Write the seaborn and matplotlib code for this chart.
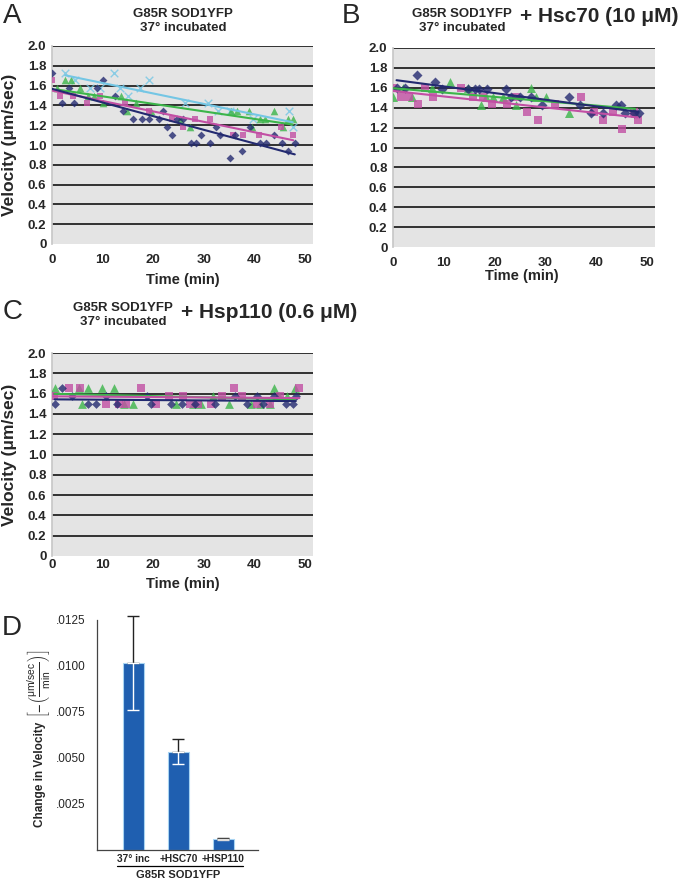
import numpy as np
import pandas as pd
import matplotlib
matplotlib.use("Agg")
import matplotlib.pyplot as plt
import matplotlib.transforms as mtrans
import seaborn as sns

sns.set_theme(style="white")
plt.rcParams['font.family'] = ['Liberation Sans', 'DejaVu Sans']
plt.rcParams['mathtext.fontset'] = 'custom'
plt.rcParams['mathtext.rm'] = 'Liberation Sans'
plt.rcParams['mathtext.it'] = 'Liberation Sans:italic'

# -------------------------------
# Data
# -------------------------------
# Panel A: 37 deg incubated
a_navy_t = [0, 2.0, 3.3, 4.4, 8.9, 10.1, 12.5, 14.1, 16.1, 17.8, 19.2, 21.1, 22.0, 22.7, 23.8,
            24.7, 25.9, 27.5, 28.5, 29.5, 31.3, 32.4, 33.2, 35.2, 36.2, 37.5, 39.2, 41.1, 42.4,
            43.8, 45.4, 46.7, 48.0]
a_navy_v = [1.73, 1.42, 1.58, 1.42, 1.58, 1.66, 1.49, 1.34, 1.26, 1.26, 1.26, 1.26, 1.34, 1.18, 1.10,
            1.26, 1.26, 1.02, 1.02, 1.10, 1.02, 1.18, 1.10, 0.87, 1.10, 0.94, 1.18, 1.02, 1.02,
            1.10, 1.02, 0.94, 1.02]
a_mag_t = [0, 1.6, 4.1, 7.0, 9.5, 14.5, 19.1, 23.7, 25.9, 28.2, 31.3, 35.7, 37.7, 41.0, 45.3, 47.7]
a_mag_v = [1.66, 1.50, 1.50, 1.42, 1.50, 1.42, 1.34, 1.26, 1.18, 1.26, 1.26, 1.10, 1.10, 1.10, 1.18, 1.10]
a_grn_t = [1.0, 2.6, 3.8, 5.6, 7.2, 8.4, 10.1, 13.6, 14.8, 16.6, 19.5, 25.3, 27.3, 35.4, 36.5,
           38.9, 39.5, 41.1, 42.1, 43.8, 45.7, 46.7, 47.6]
a_grn_v = [1.58, 1.66, 1.66, 1.58, 1.50, 1.50, 1.42, 1.50, 1.34, 1.42, 1.34, 1.26, 1.18, 1.34, 1.34,
           1.34, 1.18, 1.26, 1.26, 1.34, 1.18, 1.26, 1.26]
a_cyan_t = [2.6, 4.6, 7.6, 9.5, 12.2, 13.4, 15.1, 17.3, 19.2, 26.3, 30.9, 32.9, 35.1, 39.8, 46.9, 47.6]
a_cyan_v = [1.73, 1.66, 1.58, 1.58, 1.73, 1.58, 1.50, 1.58, 1.66, 1.42, 1.42, 1.34, 1.34, 1.26, 1.34, 1.18]

# Panel B: + Hsc70
b_navy_t = [0.7, 2.4, 4.7, 8.2, 9.7, 14.8, 16.1, 17.0, 18.6, 22.2, 23.2, 25.0, 27.2, 29.3, 34.7,
            36.8, 38.9, 41.4, 43.9, 44.9, 45.7, 47.4, 48.4]
b_navy_v = [1.60, 1.60, 1.73, 1.66, 1.59, 1.59, 1.59, 1.59, 1.59, 1.59, 1.51, 1.51, 1.51, 1.43, 1.51,
            1.43, 1.35, 1.35, 1.43, 1.43, 1.35, 1.35, 1.35]
b_mag_t = [0, 1.6, 3.2, 4.9, 6.3, 7.9, 13.3, 15.7, 17.8, 19.4, 22.4, 24.3, 26.3, 28.5, 31.9, 37.0,
           39.5, 41.4, 43.4, 45.1, 47.4, 48.2]
b_mag_v = [1.60, 1.51, 1.51, 1.44, 1.60, 1.51, 1.60, 1.51, 1.51, 1.44, 1.44, 1.51, 1.36, 1.28, 1.44, 1.51,
           1.36, 1.28, 1.36, 1.19, 1.36, 1.28]
b_grn_t = [0, 2.0, 3.8, 7.6, 11.2, 14.8, 17.4, 18.4, 19.7, 21.7, 24.3, 27.2, 28.2, 30.1, 34.7, 47.7]
b_grn_v = [1.51, 1.60, 1.51, 1.60, 1.66, 1.60, 1.43, 1.51, 1.51, 1.51, 1.43, 1.60, 1.51, 1.51, 1.35, 1.35]

# Panel C: + Hsp110
c_navy_t = [0.5, 2.0, 4.0, 7.2, 8.7, 10.7, 12.8, 18.8, 19.5, 23.5, 25.7, 28.3, 32.2, 36.2, 38.5,
            40.5, 41.8, 43.8, 46.2, 47.6, 48.2]
c_navy_v = [1.50, 1.66, 1.58, 1.50, 1.50, 1.58, 1.50, 1.58, 1.50, 1.50, 1.50, 1.50, 1.50, 1.58, 1.50,
            1.58, 1.50, 1.58, 1.50, 1.50, 1.58]
c_mag_t = [0.3, 3.3, 5.5, 10.7, 13.2, 14.7, 17.6, 20.6, 23.2, 25.9, 27.3, 28.8, 31.4, 33.6, 35.9,
           37.6, 40.6, 43.0, 45.1, 48.9]
c_mag_v = [1.58, 1.66, 1.66, 1.50, 1.50, 1.50, 1.66, 1.50, 1.58, 1.58, 1.50, 1.50, 1.50, 1.58, 1.66,
           1.58, 1.50, 1.50, 1.58, 1.66]
c_grn_t = [0.5, 5.3, 5.9, 7.2, 9.9, 12.3, 14.3, 16.0, 24.5, 27.8, 29.5, 31.9, 34.9, 39.3, 41.1,
           43.1, 43.8, 44.9, 46.4, 48.0]
c_grn_v = [1.66, 1.66, 1.50, 1.66, 1.66, 1.66, 1.50, 1.50, 1.50, 1.50, 1.50, 1.58, 1.50, 1.50, 1.50,
           1.50, 1.66, 1.58, 1.58, 1.66]

# Panel D: slopes
d_cats = ["37\u00b0 inc", "+HSC70", "+HSP110"]
d_vals = [0.01015, 0.00534, 0.00058]
d_err = [0.00256, 0.00069, 0.00005]

NAVY = "#232a70"
MAGENTA = "#c24fa4"
GREEN = "#3cb54a"
CYAN = "#74c6e4"
BG = "#e4e4e4"

fig = plt.figure(figsize=(6.8, 8.81), dpi=100)
W, H = 680, 881


def px_axes(x0, y0, x1, y1):
    return fig.add_axes([x0 / W, 1 - y1 / H, (x1 - x0) / W, (y1 - y0) / H])


def style_velocity(ax, xpad=7):
    ax.set_facecolor(BG)
    ax.set_xlim(0, 51.6)
    ax.set_ylim(0, 2.0)
    ax.set_yticks(np.arange(0, 2.01, 0.2))
    ax.set_yticklabels(["0"] + [f"{v:.1f}" for v in np.arange(0.2, 2.01, 0.2)])
    ax.set_xticks([0, 10, 20, 30, 40, 50])
    for y in np.arange(0.2, 2.01, 0.2):
        ax.axhline(y, color="black", lw=1.1, zorder=0.5)
    for s in ["top", "right", "bottom"]:
        ax.spines[s].set_visible(False)
    ax.spines["left"].set_color("#c8c8c8")
    ax.tick_params(axis="y", length=0, labelsize=9.5, pad=4)
    ax.tick_params(axis="x", length=0, labelsize=9.5, pad=xpad)
    for lab in ax.get_xticklabels() + ax.get_yticklabels():
        lab.set_fontweight("bold")
    ax.set_xlabel("")
    ax.set_ylabel("")


def scatter_fit(ax, t, v, color, marker, size, lw=1.5):
    df = pd.DataFrame({"t": t, "v": v})
    kws = {"s": size, "linewidths": 1.0 if marker == "x" else 0, "zorder": 3}
    sns.regplot(data=df, x="t", y="v", ax=ax, ci=None, marker=marker, color=color,
                scatter_kws=kws, line_kws={"lw": lw, "zorder": 4}, truncate=True)


# -------------------------------
# Panel A
# -------------------------------
axA = px_axes(52, 46, 313, 244)
scatter_fit(axA, a_cyan_t, a_cyan_v, CYAN, "x", 30)
scatter_fit(axA, a_grn_t, a_grn_v, GREEN, "^", 30)
scatter_fit(axA, a_mag_t, a_mag_v, MAGENTA, "s", 20)
scatter_fit(axA, a_navy_t, a_navy_v, NAVY, "D", 16)
style_velocity(axA)

# -------------------------------
# Panel B
# -------------------------------
axB = px_axes(393, 48, 655, 247)
scatter_fit(axB, b_grn_t, b_grn_v, GREEN, "^", 42)
scatter_fit(axB, b_mag_t, b_mag_v, MAGENTA, "s", 30)
scatter_fit(axB, b_navy_t, b_navy_v, NAVY, "D", 26)
style_velocity(axB)

# -------------------------------
# Panel C
# -------------------------------
axC = px_axes(52, 353, 313, 556)
scatter_fit(axC, c_grn_t, c_grn_v, GREEN, "^", 40)
scatter_fit(axC, c_mag_t, c_mag_v, MAGENTA, "s", 28)
scatter_fit(axC, c_navy_t, c_navy_v, NAVY, "D", 20)
style_velocity(axC, xpad=2)

# labels and titles for A-C
fig.text(10 / W, 1 - 145 / H, "Velocity (\u03bcm/sec)", rotation=90, fontsize=12.5,
         fontweight="bold", ha="center", va="center")
fig.text(10 / W, 1 - 455 / H, "Velocity (\u03bcm/sec)", rotation=90, fontsize=12.5,
         fontweight="bold", ha="center", va="center")
for xc, yc in [(183, 280), (522, 276), (183, 584)]:
    fig.text(xc / W, 1 - yc / H, "Time (min)", fontsize=10.5, fontweight="bold",
             ha="center", va="center")

sub = "G85R SOD1YFP\n37\u00b0 incubated"
fig.text(183 / W, 1 - 21 / H, sub, fontsize=9.5, fontweight="bold", ha="center",
         va="center", linespacing=1.15)
fig.text(462 / W, 1 - 21 / H, sub, fontsize=9.5, fontweight="bold", ha="center",
         va="center", linespacing=1.15)
fig.text(123 / W, 1 - 315 / H, sub, fontsize=9.5, fontweight="bold", ha="center",
         va="center", linespacing=1.15)
fig.text(520 / W, 1 - 17 / H, "+ Hsc70 (10 \u03bcM)", fontsize=15, fontweight="bold",
         ha="left", va="center")
fig.text(181 / W, 1 - 312 / H, "+ Hsp110 (0.6 \u03bcM)", fontsize=15, fontweight="bold",
         ha="left", va="center")

for letter, x, y in [("A", 3, 16), ("B", 342, 16), ("C", 3, 312), ("D", 2, 628)]:
    fig.text(x / W, 1 - y / H, letter, fontsize=20, ha="left", va="center")

# -------------------------------
# Panel D
# -------------------------------
axD = px_axes(97, 620, 258, 850)
sns.barplot(x=d_cats, y=d_vals, ax=axD, color="#1f5fb0", width=0.48,
            edgecolor="#a8d4f2", linewidth=0.8, saturation=1, errorbar=None)
xs = np.arange(len(d_cats))
zeros = [0] * len(d_cats)
axD.errorbar(xs, d_vals, yerr=[zeros, d_err], fmt="none", ecolor="#222222",
             elinewidth=1.0, capsize=4.5, capthick=1.0, clip_on=False, zorder=5)
axD.errorbar(xs[:2], d_vals[:2], yerr=[d_err[:2], zeros[:2]], fmt="none", ecolor="white",
             elinewidth=1.0, capsize=4.5, capthick=1.0, zorder=5)
axD.errorbar(xs[2:], d_vals[2:], yerr=[d_err[2:], zeros[2:]], fmt="none", ecolor="#dddddd",
             elinewidth=1.0, capsize=4.5, capthick=1.0, zorder=5)
axD.set_xlim(-0.81, 2.77)
axD.set_ylim(0, 0.0125)
axD.set_facecolor("white")
axD.set_yticks(np.arange(0.00125, 0.01251, 0.00125))
axD.set_yticklabels(["" if i % 2 == 0 else f"{v:.4f}"[1:]
                     for i, v in enumerate(np.arange(0.00125, 0.01251, 0.00125))])
for s in ["top", "right"]:
    axD.spines[s].set_visible(False)
for s in ["left", "bottom"]:
    axD.spines[s].set_color("#444444")
    axD.spines[s].set_linewidth(0.9)
axD.tick_params(axis="y", direction="in", length=7, width=0.9, color="#444444",
                labelsize=8.5, pad=8)
axD.tick_params(axis="x", length=0, labelsize=7.3, pad=3)
for lab in axD.get_xticklabels():
    lab.set_fontweight("bold")
axD.set_xlabel("")
axD.set_ylabel("")

trD = mtrans.blended_transform_factory(axD.transData, axD.transAxes)
axD.plot([-0.37, 2.43], [-0.07, -0.07], color="black", lw=0.9, transform=trD, clip_on=False)
axD.text(1.0, -0.11, "G85R SOD1YFP", transform=trD, ha="center", va="center",
         fontsize=8, fontweight="bold")

fig.text(40 / W, 1 - 774 / H, "Change in Velocity", rotation=90, ha="center",
         va="center", fontsize=8.5, fontweight="bold")
fig.text(39 / W, 1 - 684 / H,
         r"$\left[-\left(\frac{\mathrm{\mu m/sec}}{\mathrm{min}}\right)\right]$",
         rotation=90, ha="center", va="center", fontsize=10.5)

plt.savefig("out.png", dpi=100)
